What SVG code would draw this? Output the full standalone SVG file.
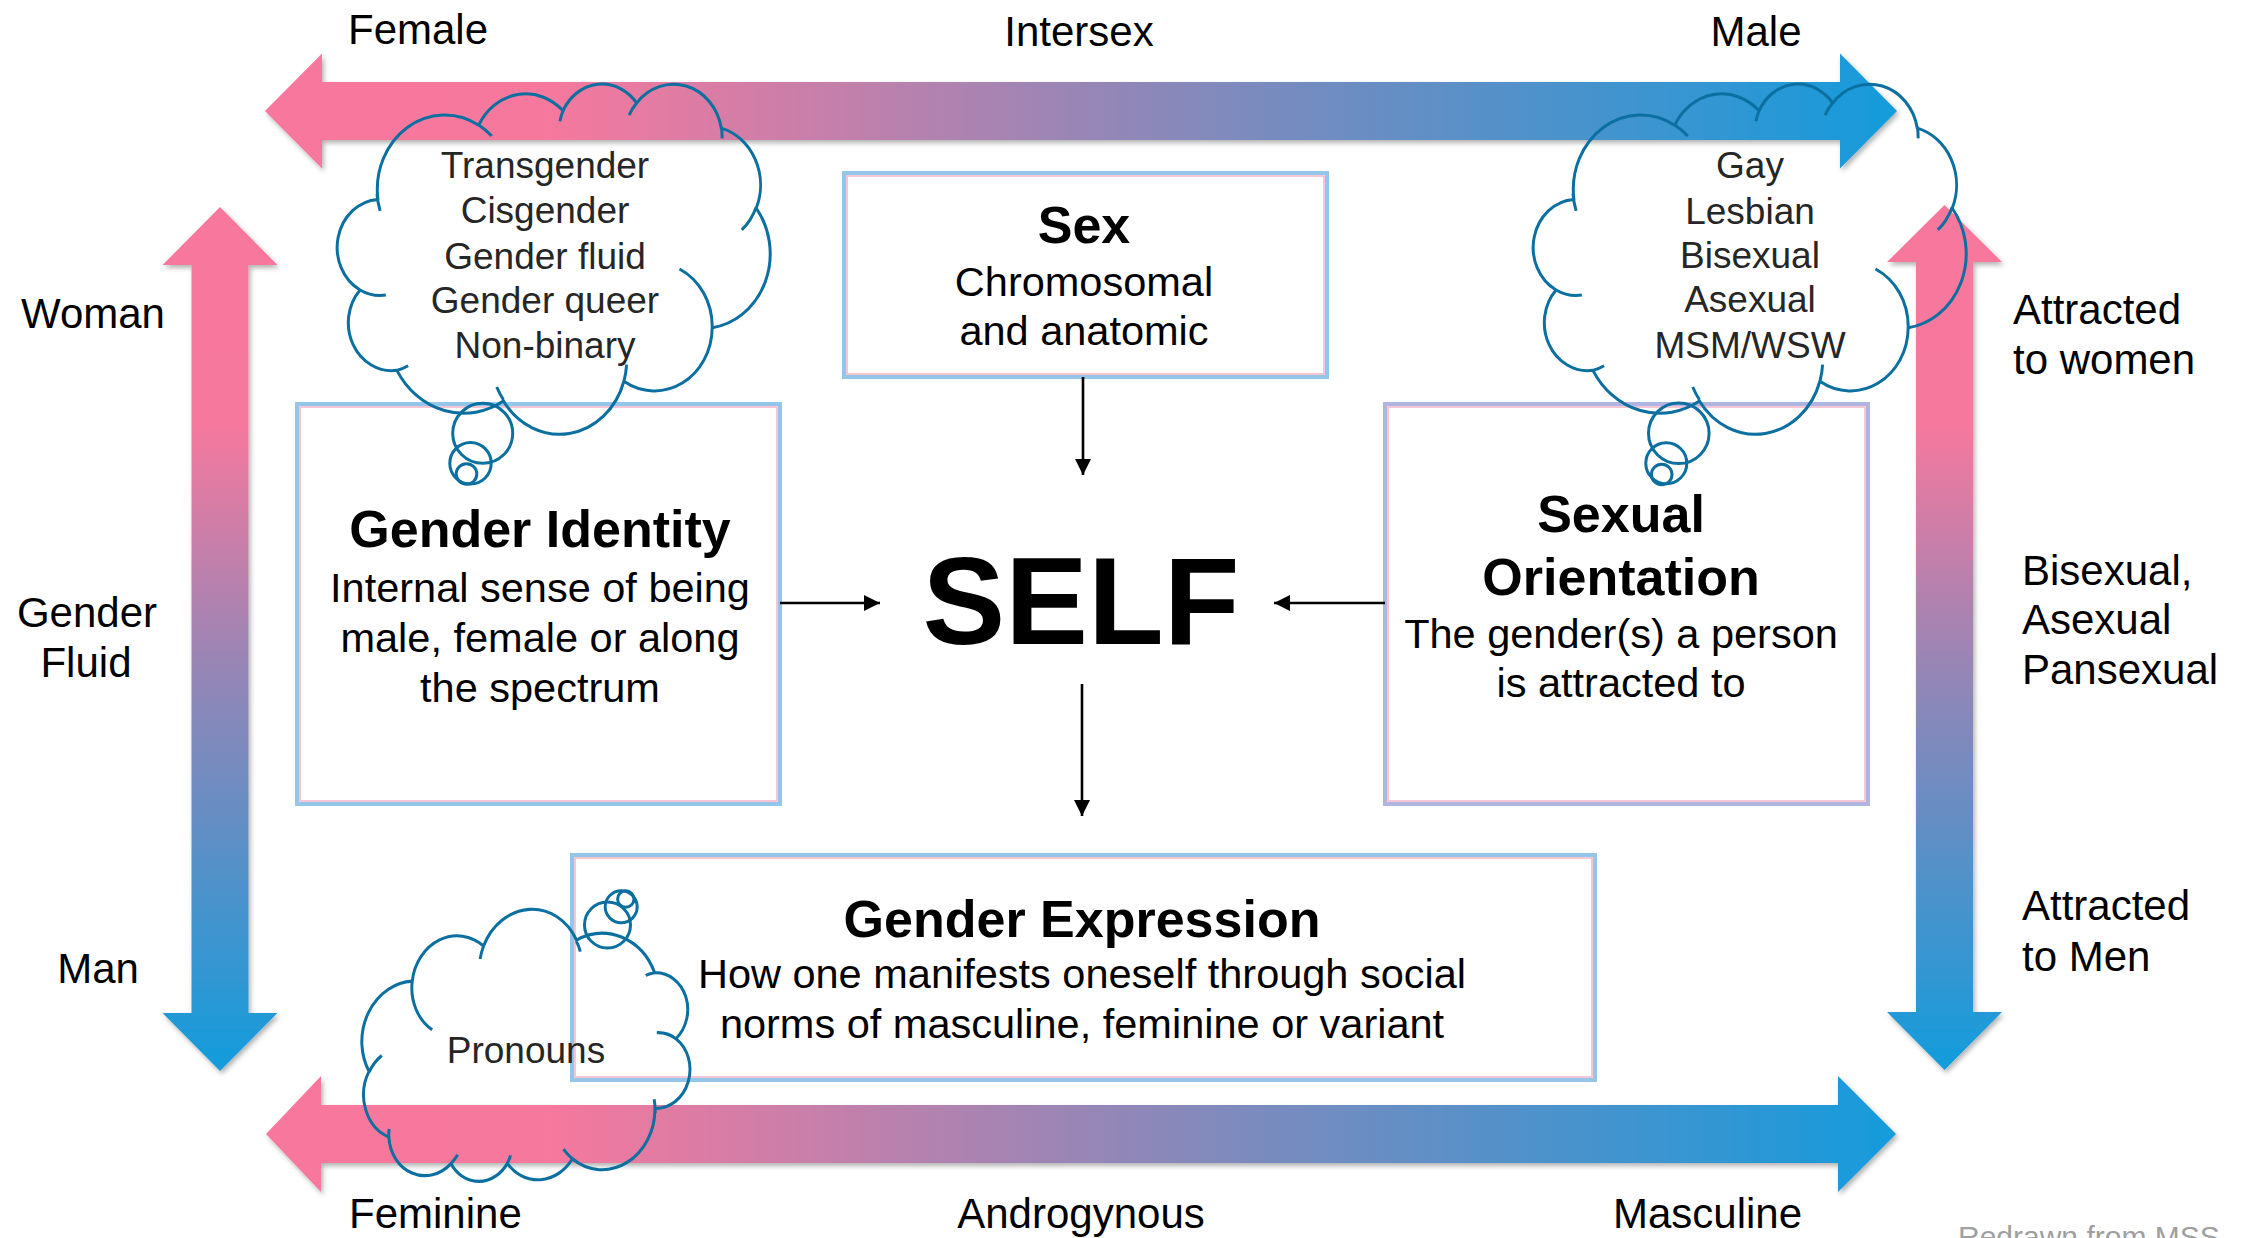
<svg xmlns="http://www.w3.org/2000/svg" width="2245" height="1238" viewBox="0 0 2245 1238">
  <style>
    .lbl { font-family: "Liberation Sans", Arial, sans-serif; font-size: 42px; fill: #000; }
    .mid { text-anchor: middle; }
    .title { font-family: "Liberation Sans", Arial, sans-serif; font-size: 52px; font-weight: bold; fill: #000; text-anchor: middle; }
    .body { font-family: "Liberation Sans", Arial, sans-serif; font-size: 41.5px; fill: #000; text-anchor: middle; }
    .cloud-txt { font-family: "Liberation Sans", Arial, sans-serif; font-size: 37px; fill: #262626; text-anchor: middle; }
    .cloud-line { fill: none; stroke: #0B6FA0; stroke-width: 3; }
    .box-outer { fill: #fff; stroke: #94C6E9; stroke-width: 4; }
    .box-inner { fill: none; stroke: #F2B5C8; stroke-width: 1.5; }
    .conn { fill: none; stroke: #000; stroke-width: 2.6; marker-end: url(#head); }
  </style>
  <defs>
    <linearGradient id="gradH" gradientUnits="userSpaceOnUse" x1="265" y1="0" x2="1897" y2="0">
      <stop offset="0" stop-color="#F8789D"/>
      <stop offset="0.17" stop-color="#F7789D"/>
      <stop offset="0.52" stop-color="#9287B7"/>
      <stop offset="1" stop-color="#159BDB"/>
    </linearGradient>
    <linearGradient id="gradV" gradientUnits="userSpaceOnUse" x1="0" y1="207" x2="0" y2="1071">
      <stop offset="0" stop-color="#F8789D"/>
      <stop offset="0.25" stop-color="#F7789D"/>
      <stop offset="0.54" stop-color="#9486B6"/>
      <stop offset="1" stop-color="#129CDC"/>
    </linearGradient>
    <filter id="shade" x="-20%" y="-20%" width="140%" height="140%">
      <feDropShadow dx="2" dy="3" stdDeviation="2.5" flood-color="#000" flood-opacity="0.3"/>
    </filter>
    <marker id="head" viewBox="0 0 16 16" refX="16" refY="8" markerWidth="16" markerHeight="16" orient="auto" markerUnits="userSpaceOnUse">
      <path d="M0 0 L16 8 L0 16 Z" fill="#000"/>
    </marker>
    <!-- cloud outline (11 arcs) plus the short inner arcs, in a 431 x 351 box -->
    <path id="cloudShape" d="M38.91 116.43
      A67.37 74.46 0 0 1 139.73 42.15
      A53.21 58.88 0 0 1 224.04 27.79
      A43.55 48.17 0 0 1 297.65 20.08
      A48.46 53.43 0 0 1 382.30 45.16
      A53.21 58.93 0 0 1 417.23 125.24
      A67.59 74.70 0 0 1 373.18 244.67
      A57.72 63.74 0 0 1 284.89 298.24
      A67.36 74.66 0 0 1 164.42 318.10
      A77.02 85.42 0 0 1 57.90 287.35
      A43.50 47.95 0 0 1 21.05 206.98
      A43.35 48.17 0 0 1 38.91 116.43 Z
      M41.17 127.92 A67.37 74.46 0 0 1 37.98 110.80
      M139.68 42.07 A67.37 74.46 0 0 1 152.70 53.07
      M220.90 38.24 A43.55 48.17 0 0 1 224.18 27.47
      M290.11 32.02 A48.46 53.43 0 0 1 297.65 20.08
      M382.36 43.96 A48.46 53.43 0 0 1 383.07 55.40
      M417.02 124.40 A53.21 58.93 0 0 1 402.77 146.92
      M340.50 185.97 A57.72 63.74 0 0 1 373.18 244.67
      M287.61 281.55 A67.36 74.66 0 0 1 284.89 298.24
      M164.40 316.71 A67.36 74.66 0 0 1 157.76 303.99
      M69.12 282.75 A43.50 47.95 0 0 1 57.90 287.35
      M46.82 212.09 A43.35 48.17 0 0 1 21.05 206.98"/>
  </defs>

  <rect width="2245" height="1238" fill="#fff"/>

  <!-- spectrum arrows with their end labels -->
  <g id="axis-sex">
    <polygon filter="url(#shade)" fill="url(#gradH)" points="265,111 322,53.5 322,82 1840,82 1840,53.5 1897,111 1840,168.5 1840,140 322,140 322,168.5"/>
    <text class="lbl" x="348" y="44">Female</text>
    <text class="lbl mid" x="1079" y="46">Intersex</text>
    <text class="lbl mid" x="1756" y="46">Male</text>
  </g>
  <g id="axis-expression">
    <polygon filter="url(#shade)" fill="url(#gradH)" points="266,1134 321,1076 321,1105 1838,1105 1838,1076 1896,1134 1838,1192 1838,1163 321,1163 321,1192"/>
    <text class="lbl" x="349" y="1228">Feminine</text>
    <text class="lbl mid" x="1081" y="1228">Androgynous</text>
    <text class="lbl" x="1613" y="1228">Masculine</text>
  </g>
  <g id="axis-identity">
    <polygon filter="url(#shade)" fill="url(#gradV)" points="220,207 277.5,265 248.5,265 248.5,1013 277.5,1013 220,1071 162.5,1013 191.5,1013 191.5,265 162.5,265"/>
    <text class="lbl mid" x="93" y="328">Woman</text>
    <text class="lbl mid" x="87" y="627">Gender</text>
    <text class="lbl mid" x="86" y="677">Fluid</text>
    <text class="lbl mid" x="98" y="983">Man</text>
  </g>
  <g id="axis-orientation">
    <polygon filter="url(#shade)" fill="url(#gradV)" points="1944.5,205 2002,262 1973,262 1973,1012 2002,1012 1944.5,1070 1887,1012 1916,1012 1916,262 1887,262"/>
    <text class="lbl" x="2013" y="324">Attracted</text>
    <text class="lbl" x="2013" y="374">to women</text>
    <text class="lbl" x="2022" y="585">Bisexual,</text>
    <text class="lbl" x="2022" y="634">Asexual</text>
    <text class="lbl" x="2022" y="684">Pansexual</text>
    <text class="lbl" x="2022" y="920">Attracted</text>
    <text class="lbl" x="2022" y="971">to Men</text>
  </g>

  <!-- concept boxes -->
  <g id="box-sex">
    <rect class="box-outer" x="844" y="173" width="483" height="204"/>
    <rect class="box-inner" x="847" y="176" width="477" height="198"/>
    <text class="title" x="1084" y="243">Sex</text>
    <text class="body" x="1084" y="296">Chromosomal</text>
    <text class="body" x="1084" y="345">and anatomic</text>
  </g>
  <g id="box-gender-identity">
    <rect class="box-outer" x="297" y="404" width="483" height="400"/>
    <rect class="box-inner" x="300" y="407" width="477" height="394"/>
    <text class="title" x="540" y="547">Gender Identity</text>
    <text class="body" x="540" y="602">Internal sense of being</text>
    <text class="body" x="540" y="652">male, female or along</text>
    <text class="body" x="540" y="702">the spectrum</text>
  </g>
  <g id="box-sexual-orientation">
    <rect class="box-outer" x="1385" y="404" width="483" height="400" style="stroke:#B0B4E0"/>
    <rect class="box-inner" x="1388" y="407" width="477" height="394"/>
    <text class="title" x="1621" y="532">Sexual</text>
    <text class="title" x="1621" y="595">Orientation</text>
    <text class="body" x="1621" y="648">The gender(s) a person</text>
    <text class="body" x="1621" y="697">is attracted to</text>
  </g>
  <g id="box-gender-expression">
    <rect class="box-outer" x="572" y="855" width="1023" height="225"/>
    <rect class="box-inner" x="575" y="858" width="1017" height="219"/>
    <text class="title" x="1082" y="937">Gender Expression</text>
    <text class="body" x="1082" y="988">How one manifests oneself through social</text>
    <text class="body" x="1082" y="1038">norms of masculine, feminine or variant</text>
  </g>
  <g id="self">
    <text x="1081" y="644" text-anchor="middle" font-family="'Liberation Sans', Arial, sans-serif" font-size="124" font-weight="bold" fill="#000">SELF</text>
  </g>

  <!-- connectors -->
  <g id="connectors">
    <path class="conn" d="M1083 377 L1083 475"/>
    <path class="conn" d="M780 603 L880 603"/>
    <path class="conn" d="M1385 603 L1274 603"/>
    <path class="conn" d="M1082 684 L1082 816"/>
  </g>

  <!-- thought clouds -->
  <g id="cloud-identity">
    <use href="#cloudShape" class="cloud-line" transform="translate(339 83)"/>
    <circle class="cloud-line" cx="482.7" cy="433.3" r="30"/>
    <circle class="cloud-line" cx="470.5" cy="463.3" r="20.7"/>
    <circle class="cloud-line" cx="466.5" cy="474" r="10.3"/>
    <text class="cloud-txt" x="545" y="178">Transgender</text>
    <text class="cloud-txt" x="545" y="223">Cisgender</text>
    <text class="cloud-txt" x="545" y="269">Gender fluid</text>
    <text class="cloud-txt" x="545" y="313">Gender queer</text>
    <text class="cloud-txt" x="545" y="358">Non-binary</text>
  </g>
  <g id="cloud-orientation">
    <use href="#cloudShape" class="cloud-line" transform="translate(1535 83)"/>
    <circle class="cloud-line" cx="1678.8" cy="433.3" r="30.3"/>
    <circle class="cloud-line" cx="1666.3" cy="463.3" r="20.5"/>
    <circle class="cloud-line" cx="1661.7" cy="474.5" r="10.3"/>
    <text class="cloud-txt" x="1750" y="178">Gay</text>
    <text class="cloud-txt" x="1750" y="224">Lesbian</text>
    <text class="cloud-txt" x="1750" y="268">Bisexual</text>
    <text class="cloud-txt" x="1750" y="312">Asexual</text>
    <text class="cloud-txt" x="1750" y="358">MSM/WSW</text>
  </g>
  <g id="cloud-expression">
    <use href="#cloudShape" class="cloud-line" style="stroke-width:3.9" transform="translate(526 1048) rotate(186) scale(0.7617 0.79) translate(-215.5 -175.5)"/>
    <circle class="cloud-line" cx="607.5" cy="925" r="23"/>
    <circle class="cloud-line" cx="621.2" cy="906.8" r="16"/>
    <circle class="cloud-line" cx="625.8" cy="899" r="8.2"/>
    <text class="cloud-txt" x="526" y="1063">Pronouns</text>
  </g>

  <text x="1958" y="1247" font-family="'Liberation Sans', Arial, sans-serif" font-size="30" fill="#A0A0A0">Redrawn from MSS</text>
</svg>
